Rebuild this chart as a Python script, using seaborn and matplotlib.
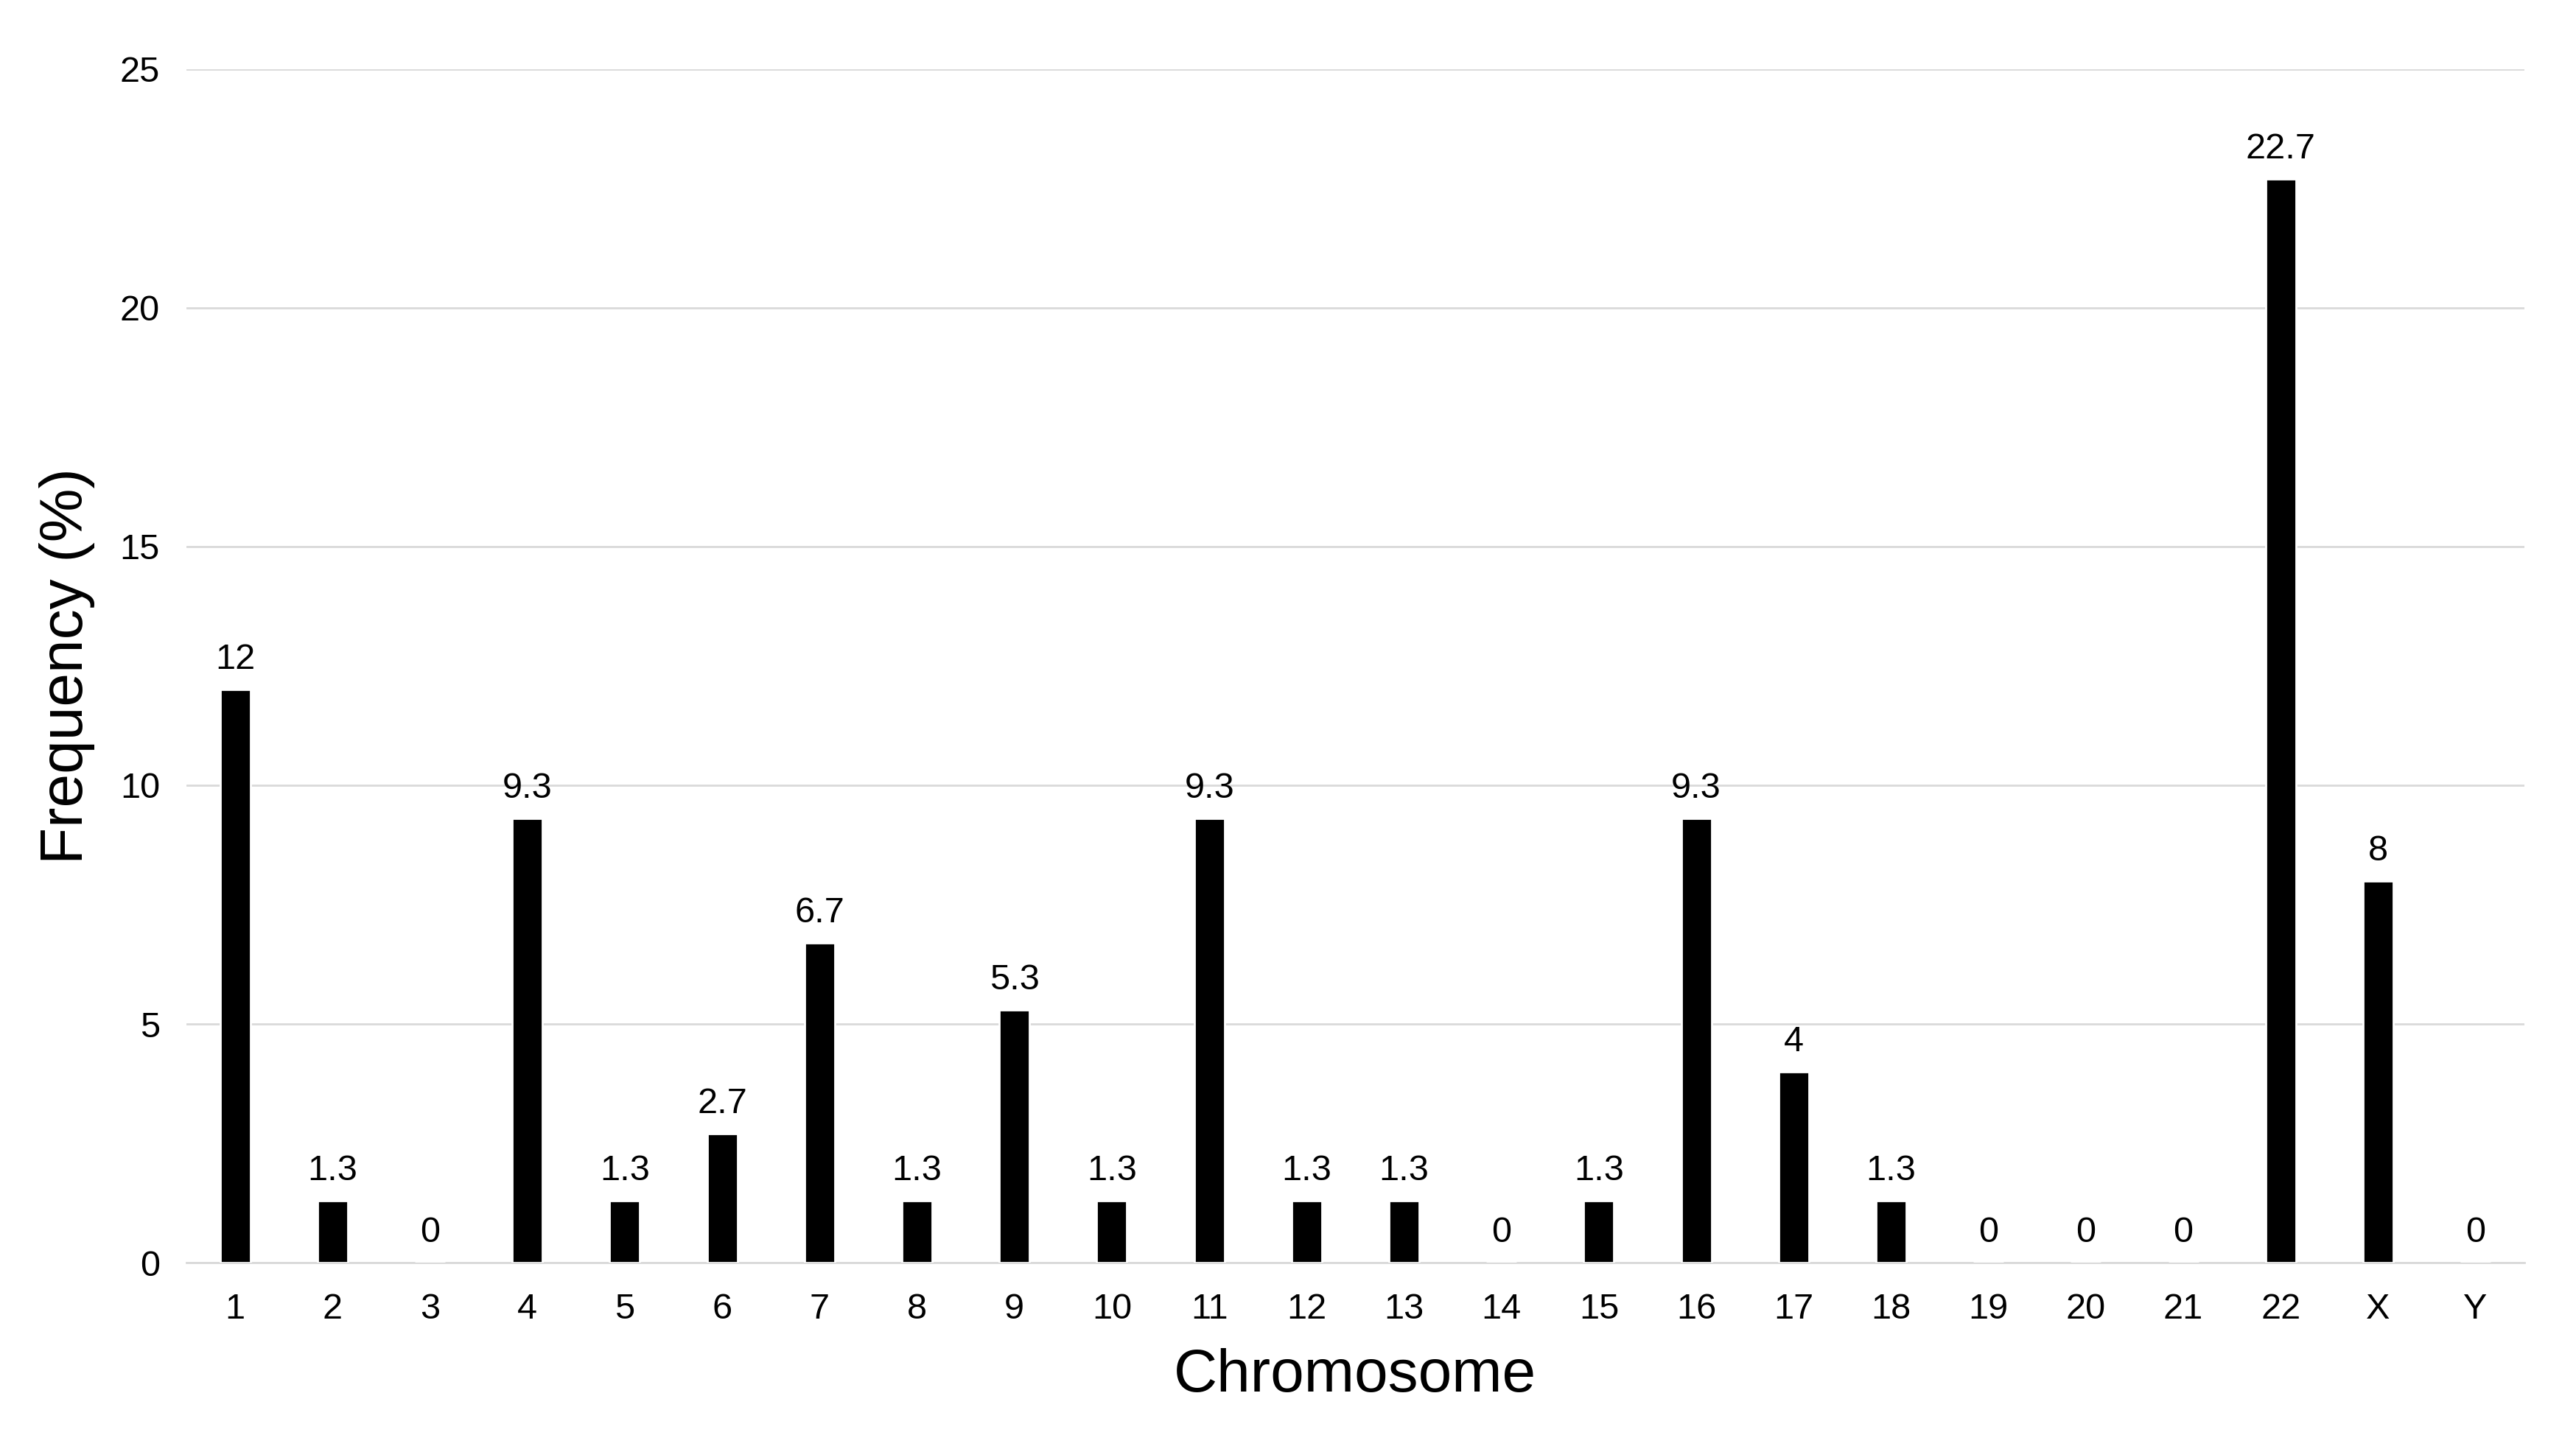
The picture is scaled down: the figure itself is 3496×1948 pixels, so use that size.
import matplotlib
matplotlib.use("Agg")
import matplotlib.pyplot as plt
import seaborn as sns
import pandas as pd

chromosomes = ["1", "2", "3", "4", "5", "6", "7", "8", "9", "10", "11", "12",
               "13", "14", "15", "16", "17", "18", "19", "20", "21", "22", "X", "Y"]
frequency = [12, 1.3, 0, 9.3, 1.3, 2.7, 6.7, 1.3, 5.3, 1.3, 9.3, 1.3,
             1.3, 0, 1.3, 9.3, 4, 1.3, 0, 0, 0, 22.7, 8, 0]
y_ticks = [0, 5, 10, 15, 20, 25]

sns.set_theme(style="white")
plt.rcParams["font.family"] = ["Liberation Sans", "DejaVu Sans"]
plt.rcParams["text.color"] = "black"
plt.rcParams["axes.labelcolor"] = "black"

df = pd.DataFrame({"Chromosome": chromosomes, "Frequency": frequency})

fig = plt.figure(figsize=(17.48, 9.74), dpi=200)
ax = fig.add_axes([0.0724, 0.12, 0.9075, 0.832])

sns.barplot(data=df, x="Chromosome", y="Frequency", order=chromosomes,
            color="black", width=0.31, saturation=1, ax=ax, zorder=3)

ax.set_ylim(0, 25)
ax.set_xlim(-0.5, len(chromosomes) - 0.5)
ax.set_yticks(y_ticks)
ax.set_yticklabels([str(t) for t in y_ticks])
ax.yaxis.grid(True, color="#d9d9d9", linewidth=1.0, zorder=0)
ax.xaxis.grid(False)
for s in ["top", "right", "left"]:
    ax.spines[s].set_visible(False)
ax.spines["bottom"].set_color("#d9d9d9")
ax.spines["bottom"].set_linewidth(1.0)
ax.tick_params(axis="both", length=0, labelsize=17.5, colors="black")
ax.tick_params(axis="x", pad=14.5)
ax.tick_params(axis="y", pad=13)

for c in ax.containers:
    ax.bar_label(c, labels=[f"{v:g}" for v in frequency], padding=6.5,
                 fontsize=17.5, color="black")

ax.set_xlabel("Chromosome", fontsize=29.5, labelpad=11, color="black")
ax.set_ylabel("Frequency (%)", fontsize=29.5, labelpad=12, color="black")

fig.savefig("out.png", dpi=200, facecolor="white")
